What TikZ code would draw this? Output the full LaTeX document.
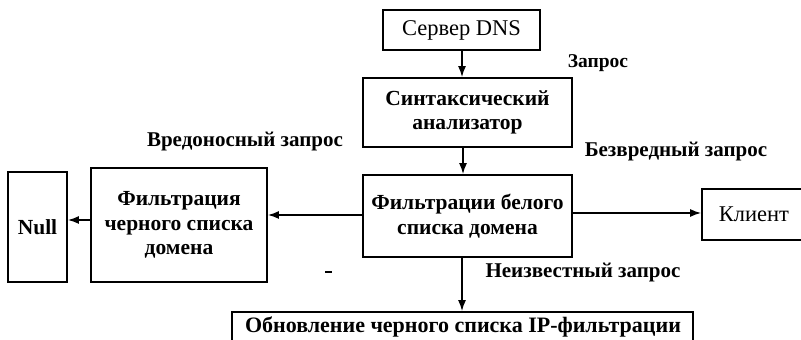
\documentclass[tikz,border=0pt]{standalone}
\usepackage{fontspec}
\setmainfont{Liberation Serif}
\usetikzlibrary{arrows.meta}
\begin{document}
\begin{tikzpicture}[x=1pt,y=1pt,
  box/.style={draw, line width=1.8pt, inner sep=0pt, align=center,
    font=\fontsize{21.5}{24.5}\selectfont\bfseries},
  lightbox/.style={box, font=\fontsize{22.5}{25}\selectfont},
  lbl/.style={inner sep=0pt, font=\fontsize{21}{24}\selectfont\bfseries},
  arr/.style={line width=1.5pt, -{Latex[length=11pt,width=8pt]}}]
\useasboundingbox (0,0) rectangle (801,340);
\clip (0,0) rectangle (801,340);
\fill[white] (0,0) rectangle (801,340);

% blocks
\node[lightbox, minimum width=157, minimum height=40] (dns) at (461.5,310) {Сервер DNS};
\node[box, minimum width=209, minimum height=69] (syn) at (467.5,227.5) {Синтаксический\\анализатор};
\node[box, minimum width=209, minimum height=82] (white) at (467.5,124) {Фильтрации белого\\списка домена};
\node[box, minimum width=176, minimum height=114] (black) at (179,115) {Фильтрация\\черного списка\\домена};
\node[box, minimum width=59, minimum height=110] (null) at (37.5,113) {Null};
\node[lightbox, minimum width=104, minimum height=51] (client) at (754,125.5) {Клиент};
\node[box, minimum width=461, minimum height=40] (update) at (462.5,8) {};
\node[lbl, font=\fontsize{22}{25}\selectfont\bfseries] (updtext) at (463,13) {Обновление черного списка IP-фильтрации};

% connectors
\draw[arr] (dns.south -| 462,0) -- (syn.north -| 462,0);
\draw[arr] (syn.south -| 463,0) -- (white.north -| 463,0);
\draw[arr] (white.west |- 0,125) -- (black.east |- 0,125);
\draw[arr] (black.west |- 0,120) -- (null.east |- 0,120);
\draw[arr] (white.east |- 0,127) -- (client.west |- 0,127);
\draw[arr] (white.south -| 462,0) -- (update.north -| 462,0);

% connector labels
\node[lbl, font=\fontsize{19.5}{23}\selectfont\bfseries] (lq) at (598,277) {Запрос};
\node[lbl] (lbad) at (245,198) {Вредоносный запрос};
\node[lbl] (lgood) at (676,188) {Безвредный запрос};
\node[lbl] (lunk) at (583,67) {Неизвестный запрос};
\coordinate (m1) at (325,68);
\coordinate (m2) at (332,68);
\draw[line width=1.5pt] (m1) -- (m2);
\end{tikzpicture}
\end{document}
